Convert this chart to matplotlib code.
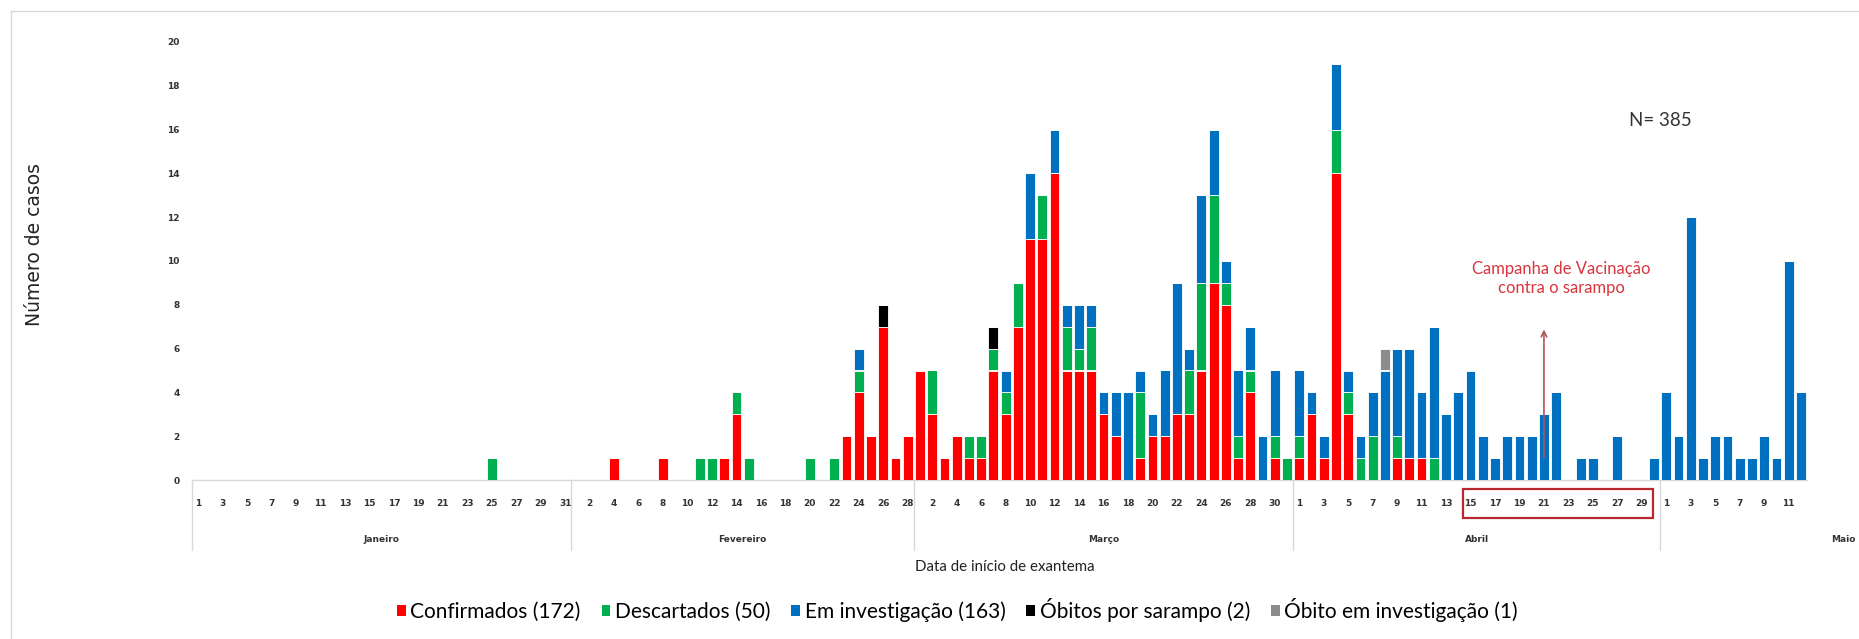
import numpy as np
import matplotlib
matplotlib.use("Agg")
import matplotlib.pyplot as plt
from matplotlib.patches import Patch, Rectangle
from matplotlib.lines import Line2D
import matplotlib.transforms as mtransforms

# ---------------- data ----------------
months = ["Janeiro", "Fevereiro", "Março", "Abril", "Maio"]
days_in_month = [31, 28, 31, 30, 12]

# one value per day, Jan 1 .. May 12
confirmados = (
    [0] * 31 +
    [0, 0, 0, 1, 0, 0, 0, 1, 0, 0, 0, 0, 1, 3, 0, 0, 0, 0, 0, 0, 0, 0, 2, 4, 2, 7, 1, 2] +
    [5, 3, 1, 2, 1, 1, 5, 3, 7, 11, 11, 14, 5, 5, 5, 3, 2, 0, 1, 2, 2, 3, 3, 5, 9, 8, 1, 4, 0, 1, 0] +
    [1, 3, 1, 14, 3, 0, 0, 0, 1, 1, 1, 0, 0, 0, 0, 0, 0, 0, 0, 0, 0, 0, 0, 0, 0, 0, 0, 0, 0, 0] +
    [0] * 12
)
descartados = (
    [0] * 24 + [1] + [0] * 6 +
    [0, 0, 0, 0, 0, 0, 0, 0, 0, 0, 1, 1, 0, 1, 1, 0, 0, 0, 0, 1, 0, 1, 0, 1, 0, 0, 0, 0] +
    [0, 2, 0, 0, 1, 1, 1, 1, 2, 0, 2, 0, 2, 1, 2, 0, 0, 0, 3, 0, 0, 0, 2, 4, 4, 1, 1, 1, 0, 1, 1] +
    [1, 0, 0, 2, 1, 1, 2, 0, 1, 0, 0, 1, 0, 0, 0, 0, 0, 0, 0, 0, 0, 0, 0, 0, 0, 0, 0, 0, 0, 0] +
    [0] * 12
)
em_investigacao = (
    [0] * 31 +
    [0] * 23 + [1] + [0] * 4 +
    [0, 0, 0, 0, 0, 0, 0, 1, 0, 3, 0, 2, 1, 2, 1, 1, 2, 4, 1, 1, 3, 6, 1, 4, 3, 1, 3, 2, 2, 3, 0] +
    [3, 1, 1, 3, 1, 1, 2, 5, 4, 5, 3, 6, 3, 4, 5, 2, 1, 2, 2, 2, 3, 4, 0, 1, 1, 0, 2, 0, 0, 1] +
    [4, 2, 12, 1, 2, 2, 1, 1, 2, 1, 10, 4]
)
obitos_sarampo = (
    [0] * 31 +
    [0] * 25 + [1] + [0] * 2 +
    [0] * 6 + [1] + [0] * 24 +
    [0] * 30 +
    [0] * 12
)
obito_investigacao = (
    [0] * 31 + [0] * 28 + [0] * 31 +
    [0] * 7 + [1] + [0] * 22 +
    [0] * 12
)

series_labels = ["Confirmados (172)", "Descartados (50)", "Em investigação (163)",
                 "Óbitos por sarampo (2)", "Óbito em investigação (1)"]
series_colors = ["#FF0000", "#00B050", "#0070C0", "#000000", "#8C8C8C"]
y_ticks = list(range(0, 21, 2))
total_label = "N= 385"
campaign_text = "Campanha de Vacinação\ncontra o sarampo"

# ---------------- figure ----------------
W, H = 1859, 639
fig = plt.figure(figsize=(W / 100, H / 100), dpi=100)
fig.patch.set_facecolor("white")

L, R, T, B = 192, 1807, 42, 480
ax = fig.add_axes([L / W, 1 - B / H, (R - L) / W, (B - T) / H])

n = sum(days_in_month)
x = np.arange(n)
series = [confirmados, descartados, em_investigacao, obitos_sarampo, obito_investigacao]
bottom = np.zeros(n)
for vals, col in zip(series, series_colors):
    v = np.array(vals, dtype=float)
    ax.bar(x, v, bottom=bottom, width=0.8, color=col, edgecolor="white",
           linewidth=0.6, zorder=3)
    bottom += v

ax.set_xlim(-0.5, n - 0.5)
ax.set_ylim(0, 20)

# y axis
ax.set_yticks(y_ticks)
ax.set_yticklabels([str(t) for t in y_ticks], fontsize=6.5, fontweight="bold",
                   color="#333333", family="DejaVu Sans")
ax.tick_params(axis="y", length=0, pad=9)

# x axis day labels (every second category)
day_labels = []
for nd in days_in_month:
    day_labels += [str(d) for d in range(1, nd + 1)]
tick_pos = x[::2]
ax.set_xticks(tick_pos)
ax.set_xticklabels([day_labels[i] for i in tick_pos], fontsize=6.5,
                   fontweight="bold", color="#333333", family="DejaVu Sans")
ax.tick_params(axis="x", length=0, pad=14)

for s in ["top", "right", "left"]:
    ax.spines[s].set_visible(False)
ax.spines["bottom"].set_color("#D9D9D9")
ax.spines["bottom"].set_linewidth(1.0)

trans = mtransforms.blended_transform_factory(ax.transData, ax.transAxes)

# month separators and labels
starts = np.cumsum([0] + days_in_month[:-1])
for i, (st, nd, name) in enumerate(zip(starts, days_in_month, months)):
    ax.plot([st - 0.5, st - 0.5], [0, -0.16], color="#D9D9D9", lw=1.0,
            transform=trans, clip_on=False)
    cx = st + nd / 2 - 0.5
    if name == "Maio":
        cx = st + 14.5
    ax.text(cx, -0.135, name, transform=trans, ha="center", va="center",
            fontsize=6.5, fontweight="bold", color="#333333", family="DejaVu Sans")

# campaign box around Apr 15-29 labels
ax.add_patch(Rectangle((103.4, -0.087), 15.5, 0.066, transform=trans, fill=False,
                       edgecolor="#B8282E", linewidth=1.6, clip_on=False))

# annotation
ax.annotate("", xy=(110, 7.0), xytext=(110, 0.9),
            arrowprops=dict(arrowstyle="->", color="#B0525C", lw=1.2), zorder=5)
ax.text(111.4, 9.2, campaign_text, ha="center", va="center", multialignment="center",
        fontsize=12, color="#D9363E", family="Lato", linespacing=1.3)
ax.text(119.5, 16.4, total_label, ha="center", va="center", fontsize=13.5,
        color="#333333", family="Lato")

# axis titles
fig.text(35 / W, 1 - 245 / H, "Número de casos", rotation=90, ha="center",
         va="center", fontsize=13.5, color="#222222", family="DejaVu Sans")
fig.text(1005 / W, 1 - 567 / H, "Data de início de exantema", ha="center",
         va="center", fontsize=10.8, color="#222222", family="Lato")

# legend
handles = [Patch(facecolor=c, edgecolor="none") for c in series_colors]
fig.legend(handles, series_labels, loc="center", bbox_to_anchor=(0.515, 1 - 610 / H),
           ncol=5, frameon=False, prop={"family": "Lato", "size": 15},
           handlelength=0.42, handleheight=0.42, handletextpad=0.22,
           columnspacing=1.0)

# chart frame
fig.add_artist(Line2D([11 / W, 1], [1 - 11 / H, 1 - 11 / H], color="#D9D9D9",
                      lw=1, transform=fig.transFigure))
fig.add_artist(Line2D([11 / W, 11 / W], [0, 1 - 11 / H], color="#D9D9D9",
                      lw=1, transform=fig.transFigure))

fig.savefig("out.png", dpi=100, facecolor="white")
